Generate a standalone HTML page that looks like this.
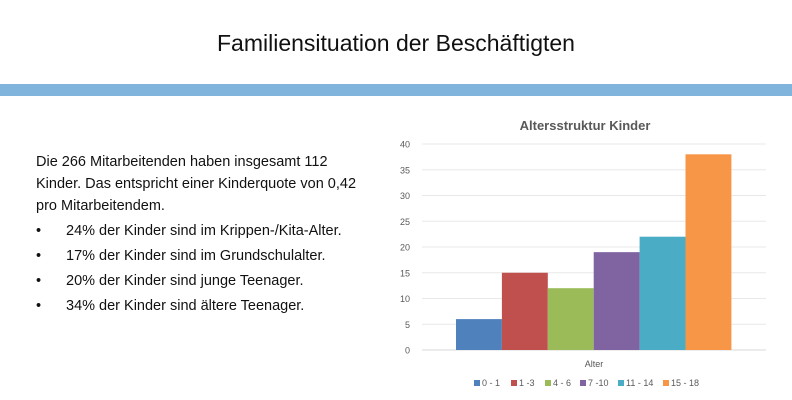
<!DOCTYPE html>
<html><head><meta charset="utf-8"><style>
body{margin:0;width:792px;height:400px;background:#fff;font-family:"Liberation Sans",sans-serif;overflow:hidden;position:relative}
#title{position:absolute;top:30px;width:792px;text-align:center;font-size:23px;color:#111}
#band{position:absolute;top:84px;left:0;width:792px;height:12px;background:#80b4dc}
#txt{position:absolute;left:36px;top:151px;font-size:14.5px;line-height:22px;color:#111;width:340px}
#txt ul{margin:3px 0 0;padding:0;list-style:none}
#txt li{position:relative;padding-left:30px;margin-bottom:3px}
#txt li:before{content:"•";position:absolute;left:0}
svg{position:absolute;left:0;top:0}
</style></head><body>
<div id="title">Familiensituation der Beschäftigten</div>
<div id="band"></div>
<div id="txt">Die 266 Mitarbeitenden haben insgesamt 112 Kinder. Das entspricht einer Kinderquote von 0,42 pro Mitarbeitendem.
<ul>
<li>24% der Kinder sind im Krippen-/Kita-Alter.</li>
<li>17% der Kinder sind im Grundschulalter.</li>
<li>20% der Kinder sind junge Teenager.</li>
<li>34% der Kinder sind ältere Teenager.</li>
</ul></div>
<svg id="chart" width="792" height="400"></svg>
<script>
const categories=["0 - 1","1 -3","4 - 6","7 -10","11 - 14","15 - 18"];
const values=[6,15,12,19,22,38];
const ticks=[0,5,10,15,20,25,30,35,40];
const colors=["#4f81bd","#c0504d","#9bbb59","#8064a2","#4bacc6","#f79646"];
const NS="http://www.w3.org/2000/svg",svg=document.getElementById('chart');
const y=v=>350-v*206/40, x0=456, bw=45.9;
function mk(t,a,txt){const e=document.createElementNS(NS,t);for(const k in a)e.setAttribute(k,a[k]);if(txt!=null)e.textContent=txt;svg.appendChild(e);return e;}
let e=mk('text',{x:585,y:130,'text-anchor':'middle','font-size':13,'font-weight':'bold',fill:'#595959'},'Altersstruktur Kinder');


ticks.forEach(t=>{
 e=mk('line',{x1:422,x2:766,y1:y(t),y2:y(t),stroke:t?'#e8e8e8':'#d9d9d9'});
 
 
 e=mk('text',{x:410,y:y(t)+3.5,'text-anchor':'end','font-size':9,fill:'#595959'},t);
 
 
});
values.forEach((v,i)=>{
 e=mk('rect',{x:x0+i*bw,y:y(v),width:bw,height:y(0)-y(v),fill:colors[i]});
 
 
});
e=mk('text',{x:594,y:367,'text-anchor':'middle','font-size':9,fill:'#595959'},'Alter');


let lx=474;
categories.forEach((c,i)=>{
 e=mk('rect',{x:lx,y:380,width:6,height:6,fill:colors[i]});
 
 
 e=mk('text',{x:lx+8,y:386,'font-size':9,fill:'#595959'},c);
 
 
 lx+=[37,34,35,38,45,0][i];
});
</script>
</body></html>
